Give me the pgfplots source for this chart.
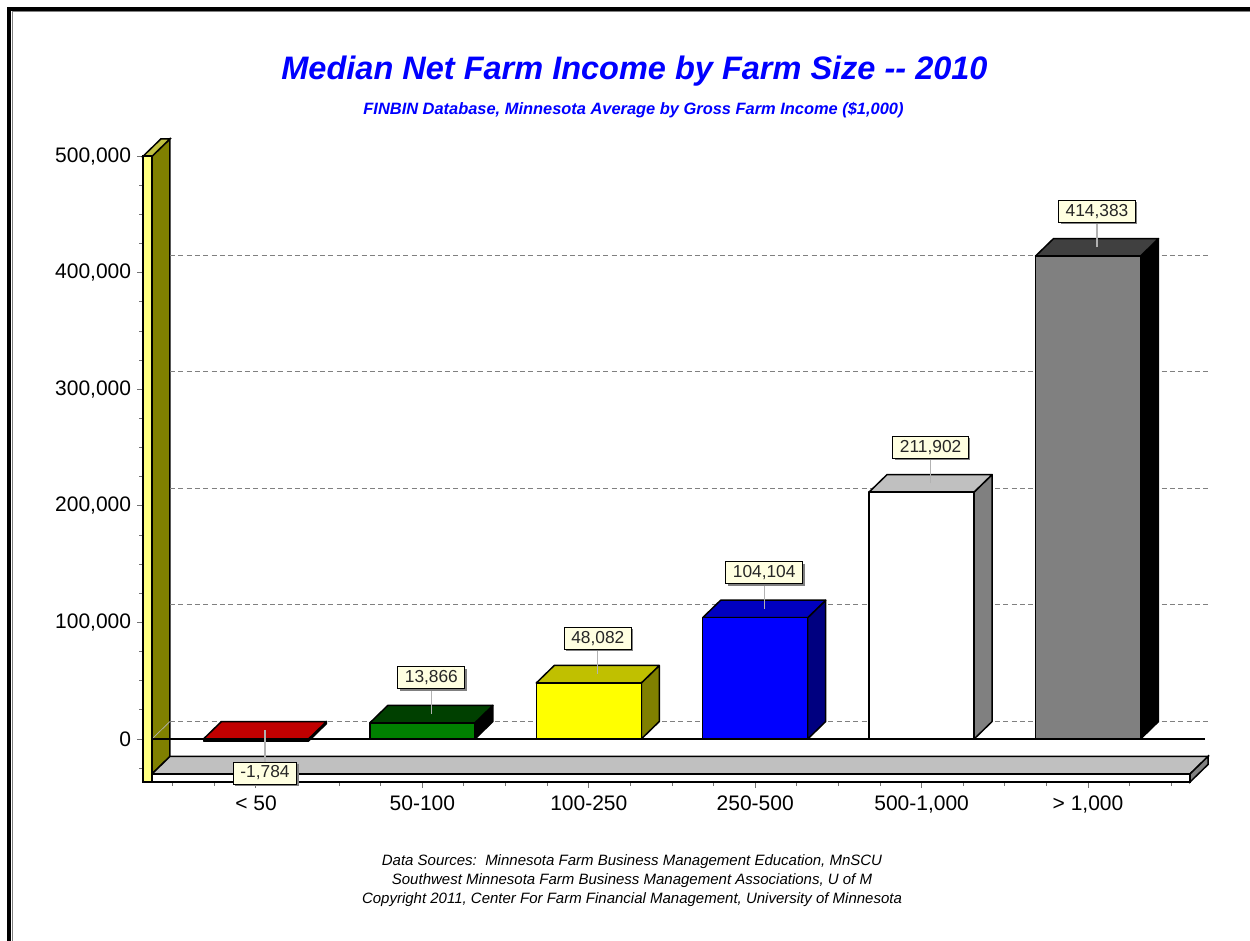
\documentclass[border=0pt]{standalone}
\usepackage{pgfplots}
\pgfplotsset{compat=1.18}
\usepackage{pgfplotstable}
\usepackage{fontspec}
\setmainfont{Liberation Sans}
\usetikzlibrary{shadows}
\definecolor{wallfront}{HTML}{FFFF80}
\definecolor{wallside}{HTML}{808000}
\definecolor{walltop}{HTML}{C0C040}
\definecolor{floortop}{HTML}{C0C0C0}
\definecolor{floorside}{HTML}{808080}
\definecolor{labfill}{HTML}{FFFFE1}
\definecolor{gridc}{HTML}{808080}
\definecolor{titleblue}{HTML}{0000FF}
\definecolor{aF}{HTML}{C00000}\definecolor{aT}{HTML}{C00000}\definecolor{aS}{HTML}{600000}
\definecolor{bF}{HTML}{008000}\definecolor{bT}{HTML}{004000}\definecolor{bS}{HTML}{000000}
\definecolor{cF}{HTML}{FFFF00}\definecolor{cT}{HTML}{C0C000}\definecolor{cS}{HTML}{808000}
\definecolor{dF}{HTML}{0000FF}\definecolor{dT}{HTML}{0000C0}\definecolor{dS}{HTML}{000080}
\definecolor{eF}{HTML}{FFFFFF}\definecolor{eT}{HTML}{C0C0C0}\definecolor{eS}{HTML}{808080}
\definecolor{fF}{HTML}{808080}\definecolor{fT}{HTML}{404040}\definecolor{fS}{HTML}{000000}

\pgfplotstableread{
idx value lab
0 -1784 -1,784
1 13866 13,866
2 48082 48,082
3 104104 104,104
4 211902 211,902
5 414383 414,383
}\datatable

\pgfplotstableread{
dx sel dy
-0.3155 0 0
0.3155 0 0
0.3155 1 0
-0.3155 1 0
}\frontface
\pgfplotstableread{
dx sel dy
-0.3155 1 0
0.3155 1 0
0.4235 1 15000
-0.2075 1 15000
}\topface
\pgfplotstableread{
dx sel dy
0.3155 0 0
0.4235 0 15000
0.4235 1 15000
0.3155 1 0
}\sideface
\pgfplotstableread{
dx s
0 1
0 0
}\leadtab

% #1 index, #2 bottom, #3 top, #4 leader end, #5 front, #6 top colour, #7 side colour
\newcommand\threedbar[7]{%
  \addplot[fill=#7,draw=black,line width=0.9pt,line join=round]
    table[x expr={#1+(\thisrow{dx})}, y expr={(1-\thisrow{sel})*(#2)+\thisrow{sel}*(#3)+\thisrow{dy}}] {\sideface} -- cycle;
  \addplot[fill=#6,draw=black,line width=0.9pt,line join=round]
    table[x expr={#1+(\thisrow{dx})}, y expr={(1-\thisrow{sel})*(#2)+\thisrow{sel}*(#3)+\thisrow{dy}}] {\topface} -- cycle;
  \addplot[fill=#5,draw=black,line width=0.9pt,line join=round]
    table[x expr={#1+(\thisrow{dx})}, y expr={(1-\thisrow{sel})*(#2)+\thisrow{sel}*(#3)+\thisrow{dy}}] {\frontface} -- cycle;
  \addplot[color=black!30,line width=0.8pt]
    table[x expr={#1+0.054+\thisrow{dx}}, y expr={\thisrow{s}*(#3+7500)+(1-\thisrow{s})*(#4)}] {\leadtab};
}

\begin{document}
\begin{tikzpicture}
\path[use as bounding box] (0pt,0pt) rectangle (750pt,-564.6pt);
\draw[line width=2.4pt] (5.4pt,-564.6pt) -- (5.4pt,-5.4pt) -- (750pt,-5.4pt);
\draw[gray,line width=0.6pt] (7.2pt,-564.6pt) -- (7.2pt,-7.2pt) -- (750pt,-7.2pt);

\node[anchor=base, font=\fontsize{19.5}{23}\selectfont\bfseries\itshape, text=titleblue, inner sep=0pt]
  at (380.7pt,-48pt) {Median Net Farm Income by Farm Size {-}{-} 2010};
\node[anchor=base, font=\fontsize{9.85}{12}\selectfont\bfseries\itshape, text=titleblue, inner sep=0pt]
  at (380.1pt,-69pt) {FINBIN Database, Minnesota Average by Gross Farm Income (\$1,000)};
\node[anchor=base, font=\fontsize{9}{11}\selectfont\itshape, inner sep=0pt]
  at (379.2pt,-519pt) {Data Sources:\ \ Minnesota Farm Business Management Education, MnSCU};
\node[anchor=base, font=\fontsize{9}{11}\selectfont\itshape, inner sep=0pt]
  at (379.2pt,-530.4pt) {Southwest Minnesota Farm Business Management Associations, U of M};
\node[anchor=base, font=\fontsize{9}{11}\selectfont\itshape, inner sep=0pt]
  at (379.2pt,-541.8pt) {Copyright 2011, Center For Farm Financial Management, University of Minnesota};

\begin{axis}[
  at={(85.8pt,-469.2pt)}, anchor=south west,
  scale only axis, width=639pt, height=385.9pt,
  xmin=-0.679, xmax=5.721, ymin=-36900, ymax=515000,
  clip=false,
  axis line style={draw=none},
  xtick={0,1,2,3,4,5},
  xticklabels={{< 50},{50-100},{100-250},{250-500},{500-1,000},{> 1,000}},
  minor xtick={-0.5,-0.25,...,5.5},
  ytick={0,100000,200000,300000,400000,500000},
  minor ytick={-25000,25000,50000,75000,125000,150000,175000,225000,250000,275000,325000,350000,375000,425000,450000,475000},
  tick align=outside, xtick pos=bottom, ytick pos=left,
  major tick length=3.6pt, minor tick length=2.4pt,
  tick style={color=black!55, line width=0.6pt},
  scaled y ticks=false,
  yticklabel style={/pgf/number format/fixed, /pgf/number format/precision=0,
    /pgf/number format/1000 sep={,}, /pgf/number format/assume math mode=true},
  xticklabel style={yshift=-1pt},
  ticklabel style={font=\fontsize{12.6}{15}\selectfont},
]
% wall back parts
\addplot[fill=wallside,draw=black,line width=0.9pt] coordinates {(-0.625,-30000) (-0.625,500000) (-0.517,515000) (-0.517,-15000)} -- cycle;
\addplot[fill=walltop,draw=black,line width=0.9pt] coordinates {(-0.679,500000) (-0.625,500000) (-0.517,515000) (-0.571,515000)} -- cycle;
% grid lines on back plane
\addplot[gridc,dash pattern=on 3pt off 2pt,line width=0.6pt] coordinates {(-0.517,15000) (5.721,15000)};
\addplot[gridc,dash pattern=on 3pt off 2pt,line width=0.6pt] coordinates {(-0.517,115000) (5.721,115000)};
\addplot[gridc,dash pattern=on 3pt off 2pt,line width=0.6pt] coordinates {(-0.517,215000) (5.721,215000)};
\addplot[gridc,dash pattern=on 3pt off 2pt,line width=0.6pt] coordinates {(-0.517,315000) (5.721,315000)};
\addplot[gridc,dash pattern=on 3pt off 2pt,line width=0.6pt] coordinates {(-0.517,415000) (5.721,415000)};
\addplot[gridc!60,line width=0.4pt] coordinates {(-0.517,15000) (-0.625,0)};
% zero line
\addplot[black,line width=0.9pt] coordinates {(-0.625,0) (5.703,0)};
% floor
\addplot[fill=floortop,draw=black,line width=0.9pt] coordinates {(-0.625,-30000) (5.613,-30000) (5.721,-15000) (-0.517,-15000)} -- cycle;
\addplot[fill=white,draw=black,line width=1.2pt] coordinates {(-0.625,-36900) (5.613,-36900) (5.613,-30000) (-0.625,-30000)} -- cycle;
\addplot[fill=floorside,draw=black,line width=0.9pt] coordinates {(5.613,-36900) (5.721,-21900) (5.721,-15000) (5.613,-30000)} -- cycle;
% wall front
\addplot[fill=wallfront,draw=black,line width=1.2pt] coordinates {(-0.679,-36900) (-0.625,-36900) (-0.625,500000) (-0.679,500000)} -- cycle;
% bars
\threedbar{0}{-1784}{0}{-19700}{aF}{aT}{aS}
\threedbar{1}{0}{13866}{42966}{bF}{bT}{bS}
\threedbar{2}{0}{48082}{77182}{cF}{cT}{cS}
\threedbar{3}{0}{104104}{133204}{dF}{dT}{dS}
\threedbar{4}{0}{211902}{241002}{eF}{eT}{eS}
\threedbar{5}{0}{414383}{443483}{fF}{fT}{fS}
% value labels
\addplot[draw=none, nodes near coords, point meta=explicit symbolic,
  every node near coord/.append style={anchor=center, fill=labfill, draw=black, line width=0.6pt,
    font=\fontsize{10.4}{12}\selectfont, text=black!85, inner xsep=4.2pt, inner ysep=0pt, minimum height=13.2pt,
    drop shadow={shadow xshift=1.2pt, shadow yshift=-1.2pt, fill=black!50, opacity=1}}]
  table[x expr={\thisrow{idx}+0.054}, y expr={ifthenelse(\thisrow{value}>0,\thisrow{value}+38500,-29200)}, meta=lab] {\datatable};
\end{axis}
\end{tikzpicture}
\end{document}
